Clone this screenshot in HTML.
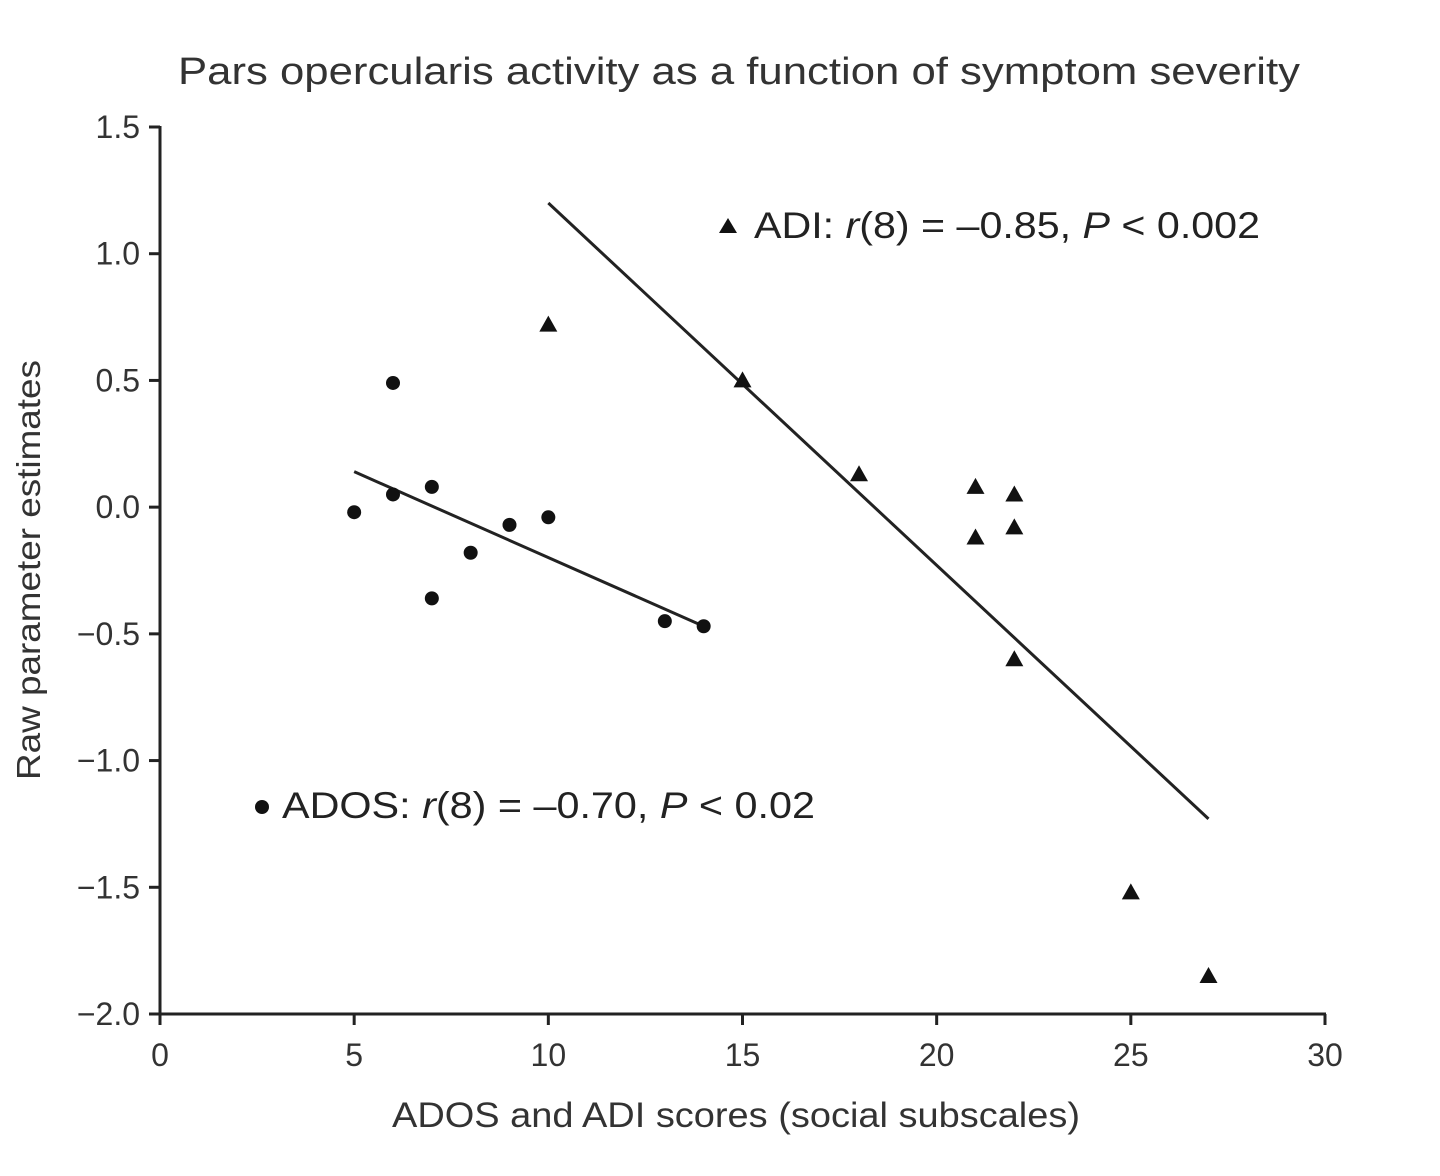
<!DOCTYPE html>
<html><head><meta charset="utf-8"><style>
body{margin:0;background:#fff;}
svg{display:block;font-family:"Liberation Sans",sans-serif;}
</style></head><body>
<svg id="chart" width="1440" height="1176">
<text x="178" y="84" font-size="38" textLength="1122" lengthAdjust="spacingAndGlyphs" fill="#333">Pars opercularis activity as a function of symptom severity</text>
<text x="392" y="1127" font-size="35" textLength="688" lengthAdjust="spacingAndGlyphs" fill="#333">ADOS and ADI scores (social subscales)</text>
<text transform="translate(40,780) rotate(-90)" font-size="33" textLength="420" lengthAdjust="spacingAndGlyphs" fill="#333">Raw parameter estimates</text>
<g id="axes"></g><g id="marks"></g>
<text x="282" y="818" font-size="37" textLength="533" lengthAdjust="spacingAndGlyphs" fill="#222">ADOS: <tspan font-style="italic">r</tspan>(8) = –0.70, <tspan font-style="italic">P</tspan> &lt; 0.02</text>
<circle cx="262" cy="807" r="7" fill="#111"/>
<text x="754" y="238" font-size="37" textLength="506" lengthAdjust="spacingAndGlyphs" fill="#222">ADI: <tspan font-style="italic">r</tspan>(8) = –0.85, <tspan font-style="italic">P</tspan> &lt; 0.002</text>
<polygon points="728,218 719,233 737,233" fill="#111"/>
</svg>
<script>
const xTicks=[0,5,10,15,20,25,30];
const yTicks=[1.5,1.0,0.5,0.0,-0.5,-1.0,-1.5,-2.0];
const yTickLabels=["1.5","1.0","0.5","0.0","−0.5","−1.0","−1.5","−2.0"];
const adosX=[5,6,6,7,7,8,9,10,13,14];
const adosY=[-0.02,0.49,0.05,0.08,-0.36,-0.18,-0.07,-0.04,-0.45,-0.47];
const adiX=[10,15,18,21,21,22,22,22,25,27];
const adiY=[0.72,0.50,0.13,0.08,-0.12,0.05,-0.08,-0.60,-1.52,-1.85];
const adosFitX=[5,14];
const adosFitY=[0.14,-0.47];
const adiFitX=[10,27];
const adiFitY=[1.20,-1.23];
const NS="http://www.w3.org/2000/svg";
const X=v=>160+v*(1325-160)/30;
const Y=v=>1014-(v+2)*(1014-127)/3.5;
function mk(t,a,p){const e=document.createElementNS(NS,t);for(const k in a)e.setAttribute(k,a[k]);p.appendChild(e);return e;}
const ax=document.getElementById('axes'),mg=document.getElementById('marks');
let l=mk('line',{x1:160,y1:1014,x2:1326,y2:1014,stroke:'#222','stroke-width':3},ax);


l=mk('line',{x1:160,y1:1015,x2:160,y2:126,stroke:'#222','stroke-width':3},ax);


xTicks.forEach(v=>{
 const t=mk('line',{x1:X(v),y1:1014,x2:X(v),y2:1025,stroke:'#222','stroke-width':3},ax);
 
 
 const s=mk('text',{x:X(v),y:1066,'font-size':32,'text-anchor':'middle',fill:'#333'},ax);s.textContent=v;
 
 
});
yTicks.forEach((v,i)=>{
 const t=mk('line',{x1:149,y1:Y(v),x2:160,y2:Y(v),stroke:'#222','stroke-width':3},ax);
 
 
 const s=mk('text',{x:140,y:Y(v)+11,'font-size':32,'text-anchor':'end',fill:'#333'},ax);s.textContent=yTickLabels[i];
 
 
});
let f=mk('line',{x1:X(adosFitX[0]),y1:Y(adosFitY[0]),x2:X(adosFitX[1]),y2:Y(adosFitY[1]),stroke:'#222','stroke-width':3},mg);


f=mk('line',{x1:X(adiFitX[0]),y1:Y(adiFitY[0]),x2:X(adiFitX[1]),y2:Y(adiFitY[1]),stroke:'#222','stroke-width':3},mg);


adosX.forEach((v,i)=>{
 const c=mk('circle',{cx:X(v),cy:Y(adosY[i]),r:7,fill:'#111'},mg);
 
 
});
adiX.forEach((v,i)=>{
 const x=X(v),y=Y(adiY[i]);
 const p=mk('polygon',{points:`${x},${y-9} ${x-9},${y+7} ${x+9},${y+7}`,fill:'#111'},mg);
 
 
});
</script>
</body></html>
